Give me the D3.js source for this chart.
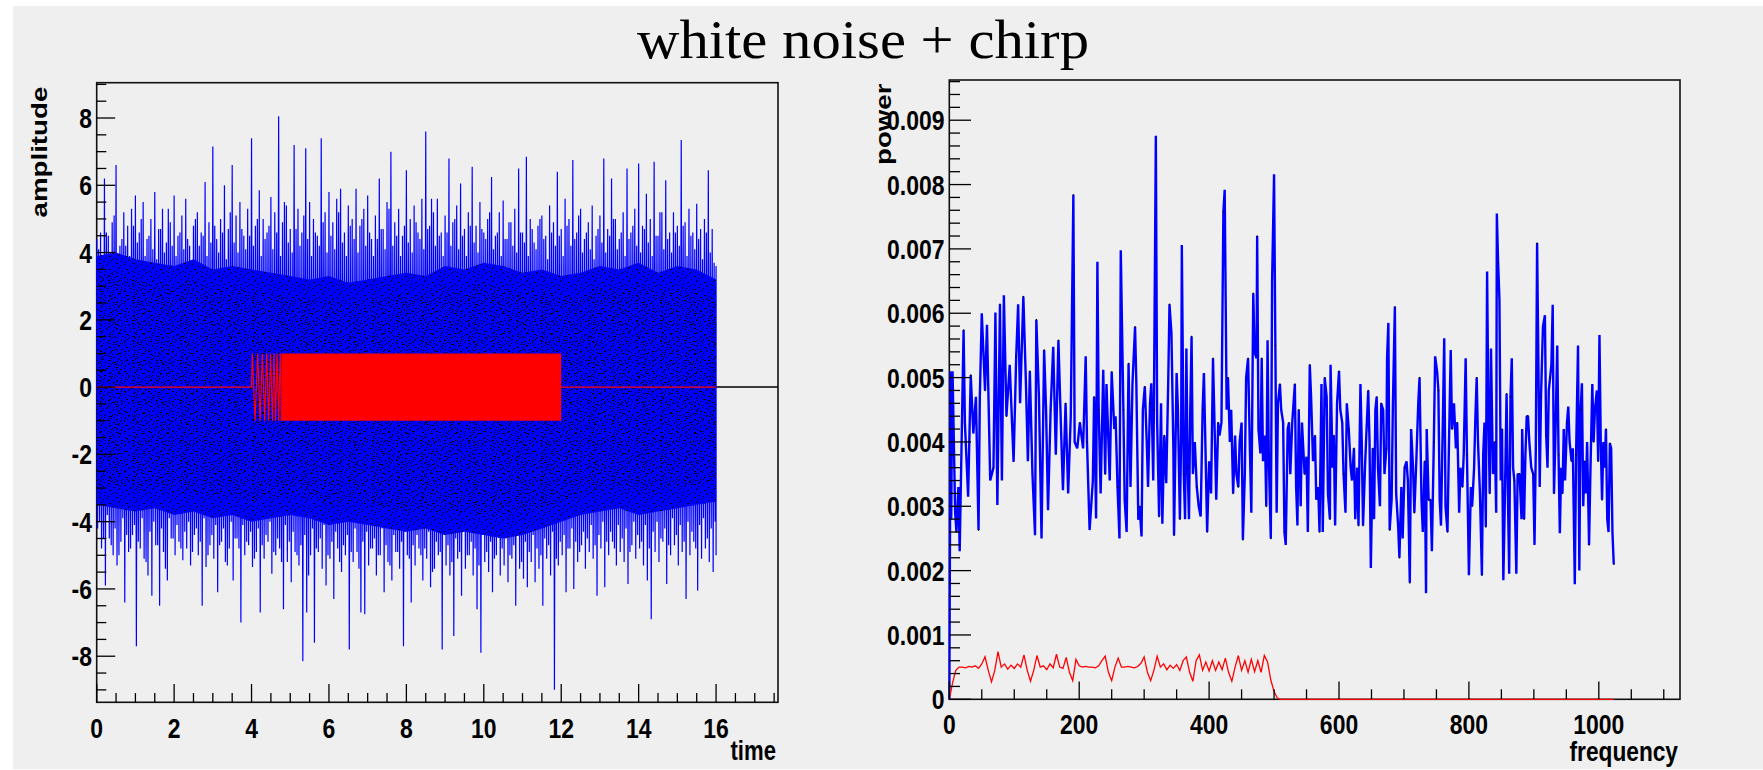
<!DOCTYPE html>
<html>
<head>
<meta charset="utf-8">
<script src="https://cdn.jsdelivr.net/npm/d3@7"></script>
<style>
  html, body { margin: 0; padding: 0; background: #fff; }
  svg { display: block; }
</style>
</head>
<body>
<div id="chart"></div>
<script>

// ---- left pad: white noise + chirp in time ----
// per 0.1 s bin (t = 0, 0.1, ...): highest and lowest excursion of the blue trace
const noiseStep = 0.1
const noiseHi = [
  4.4,4.6,6.2,4.5,4.9,6.6,4.2,5.2,4.8,5.3,
  5.7,4.6,5.5,4.4,5.0,5.8,4.7,5.3,4.3,4.9,
  5.7,4.5,5.1,5.6,4.2,4.8,5.2,4.6,6.1,4.9,
  7.15,4.4,5.0,6.0,4.7,6.6,5.1,5.5,4.5,5.3,
  7.4,4.8,5.85,5.0,4.6,5.65,5.2,8.05,4.9,5.4,
  4.7,7.2,5.3,4.6,7.1,5.5,5.0,4.5,7.4,5.2,
  5.8,4.9,5.6,5.9,4.6,5.4,5.0,5.9,4.8,5.3,
  5.7,4.4,5.1,6.2,4.7,5.5,7.0,4.9,5.3,4.5,
  6.45,5.0,5.4,4.6,5.6,7.6,4.8,5.2,5.6,4.6,
  5.1,6.8,4.9,5.4,6.05,4.7,5.2,6.55,4.8,5.5,
  4.6,5.0,6.25,4.5,5.2,5.55,4.4,4.9,5.3,6.5,
  4.6,6.85,5.0,4.3,4.8,5.1,4.5,5.4,4.9,6.4,
  4.7,5.6,5.0,6.75,4.6,5.3,4.4,4.9,5.4,4.5,
  5.1,6.8,4.7,6.2,5.0,4.4,5.2,6.5,4.6,5.3,
  6.65,4.8,5.75,5.0,6.7,4.5,5.2,6.15,4.6,5.2,
  4.8,7.35,4.9,5.3,4.6,5.45,4.7,5.0,6.45,4.7,
  3.6
]
const noiseLo = [
  -4.2,-4.8,-5.9,-4.5,-5.0,-5.3,-4.6,-6.4,-4.9,-4.4,
  -7.7,-4.8,-5.1,-5.6,-6.2,-4.7,-6.5,-4.9,-5.75,-4.5,
  -5.0,-4.6,-5.15,-4.8,-5.3,-4.4,-5.0,-6.5,-5.35,-4.7,
  -5.1,-6.1,-4.6,-5.2,-4.8,-5.75,-4.5,-7.0,-5.0,-4.7,
  -5.35,-4.9,-6.7,-5.1,-4.6,-5.55,-5.0,-4.8,-6.6,-5.2,
  -5.8,-4.9,-5.3,-8.15,-6.7,-5.0,-7.6,-4.9,-5.4,-5.9,
  -5.1,-6.3,-4.8,-5.5,-5.0,-7.8,-5.2,-4.9,-6.7,-6.75,
  -5.3,-4.8,-5.6,-5.0,-6.1,-5.2,-5.75,-4.9,-5.4,-7.7,
  -5.0,-6.4,-5.3,-4.8,-5.75,-5.1,-5.95,-5.4,-5.0,-7.8,
  -5.3,-5.6,-7.4,-5.1,-6.2,-5.4,-5.0,-5.6,-6.6,-7.9,
  -5.2,-5.5,-6.1,-5.0,-5.6,-5.3,-5.8,-5.1,-6.5,-5.4,
  -5.7,-5.95,-5.2,-5.8,-5.4,-6.5,-5.1,-5.6,-9.0,-5.3,
  -5.0,-6.1,-4.8,-6.0,-5.2,-4.7,-5.4,-4.9,-5.1,-6.2,
  -4.8,-5.95,-5.0,-4.6,-5.3,-4.9,-5.2,-5.85,-4.7,-5.1,
  -4.8,-5.3,-5.75,-6.9,-4.9,-5.2,-4.6,-5.85,-5.0,-4.7,
  -5.3,-4.9,-6.3,-5.0,-4.6,-6.05,-5.1,-4.8,-5.2,-5.5,
  -5.0
]
// the in-between bins (t = 0.05, 0.15, ...): the ragged top/bottom of the dense band
const noiseHi2 = [
  4.1,3.8,4.6,4.0,5.1,3.7,4.4,4.2,3.9,4.8,
  4.3,5.0,3.9,4.5,4.1,3.8,4.7,4.0,5.3,4.2,
  3.9,4.6,4.1,4.4,3.7,5.0,4.2,4.5,3.9,4.3,
  4.8,4.0,4.6,3.8,5.2,4.3,4.0,4.7,4.1,4.5,
  4.2,5.0,3.9,4.4,4.8,4.1,4.6,3.9,5.5,4.3,
  4.0,4.7,4.2,5.1,4.4,3.9,4.6,4.2,4.9,4.0,
  4.5,4.1,5.2,4.3,3.9,4.8,4.4,4.0,5.0,4.2,
  4.6,3.9,4.4,4.7,4.1,5.3,4.2,4.5,3.9,4.8,
  4.3,4.0,4.9,4.4,4.1,4.7,5.6,4.2,4.5,3.9,
  4.6,4.2,5.0,4.1,4.5,3.9,4.8,4.3,4.0,4.7,
  4.4,5.2,4.1,4.6,3.9,4.4,4.9,4.2,4.0,4.6,
  4.3,3.9,4.7,4.1,5.0,4.4,3.8,4.6,4.2,4.5,
  3.9,4.8,4.2,4.4,5.1,4.0,4.6,4.1,3.8,4.7,
  4.3,4.0,4.5,5.0,4.1,4.6,3.9,4.4,4.8,4.2,
  4.0,4.7,4.3,3.9,4.5,5.2,4.1,4.4,4.0,4.6,
  4.2,4.8,3.9,4.5,4.1,4.4,3.8,4.6,4.0,3.7
]
const noiseLo2 = [
  -4.0,-4.5,-3.8,-4.7,-4.2,-5.0,-3.9,-4.4,-4.8,-4.1,
  -4.6,-3.9,-5.2,-4.3,-4.0,-4.7,-4.2,-5.4,-3.9,-4.5,
  -4.1,-4.8,-4.3,-4.0,-4.9,-4.2,-4.6,-3.9,-5.0,-4.4,
  -4.1,-4.7,-4.2,-5.3,-4.0,-4.5,-4.8,-4.1,-4.6,-4.3,
  -5.1,-4.2,-4.7,-4.4,-4.0,-4.9,-4.5,-5.2,-4.1,-4.6,
  -4.3,-5.0,-4.7,-4.4,-5.6,-4.2,-4.8,-4.5,-4.1,-5.0,
  -4.6,-4.3,-5.2,-4.7,-4.4,-4.9,-4.2,-5.4,-4.6,-4.3,
  -4.8,-4.5,-5.0,-4.2,-4.7,-5.3,-4.4,-4.9,-4.6,-4.3,
  -5.1,-4.7,-4.4,-5.0,-4.8,-4.3,-5.5,-4.6,-4.9,-4.4,
  -4.7,-5.2,-4.5,-4.9,-4.3,-5.0,-4.6,-4.8,-5.3,-4.4,
  -4.9,-4.6,-5.1,-4.4,-4.8,-4.5,-5.0,-4.7,-4.3,-5.2,
  -4.6,-4.9,-4.4,-4.8,-5.0,-4.5,-4.7,-4.3,-5.1,-4.6,
  -4.4,-4.8,-4.2,-4.6,-4.9,-4.3,-4.5,-4.1,-4.7,-4.4,
  -4.0,-4.6,-4.3,-4.8,-4.1,-4.5,-4.2,-4.9,-4.0,-4.4,
  -4.6,-4.1,-4.8,-4.3,-4.0,-4.5,-4.2,-4.7,-3.9,-4.4,
  -4.1,-4.6,-4.0,-4.3,-4.8,-4.1,-3.9,-4.5,-4.2,-4.0
]
// every 0.5 s: edges of the marker-speckled core (dense inner part, sparser outer part)
const coreStep = 0.5
const coreHi = [3.3,3.4,3.2,3.1,3.0,3.2,2.9,3.0,2.9,2.8,2.7,2.6,2.6,2.5,2.6,2.7,2.8,
                2.7,3.0,2.9,3.1,3.0,2.8,2.9,2.7,2.8,3.0,2.9,3.1,2.8,3.0,2.9,2.6]
const coreLo = [-2.9,-3.0,-3.1,-3.0,-3.2,-3.1,-3.3,-3.2,-3.4,-3.3,-3.2,-3.3,-3.5,-3.4,-3.5,-3.6,-3.7,
                -3.6,-3.8,-3.7,-3.8,-3.9,-3.8,-3.6,-3.4,-3.2,-3.1,-3.0,-3.2,-3.1,-3.0,-2.9,-2.8]
const outerHi = [3.9,4.0,3.8,3.7,3.6,3.8,3.5,3.6,3.5,3.4,3.3,3.2,3.3,3.1,3.2,3.3,3.4,
                 3.3,3.6,3.5,3.7,3.6,3.4,3.5,3.3,3.4,3.6,3.5,3.7,3.4,3.6,3.5,3.2]
const outerLo = [-3.5,-3.6,-3.7,-3.6,-3.8,-3.7,-3.9,-3.8,-4.0,-3.9,-3.8,-3.9,-4.1,-4.0,-4.1,-4.2,-4.3,
                 -4.2,-4.4,-4.3,-4.4,-4.5,-4.4,-4.2,-4.0,-3.8,-3.7,-3.6,-3.8,-3.7,-3.6,-3.5,-3.4]
// red chirp: flat, first resolved swings, solid block, flat
const chirpHead = [[0,0],[4.0,0],[4.02,1],[4.09,-1],[4.16,1],[4.22,-1],[4.28,1],[4.34,-1],[4.39,1],
                   [4.44,-1],[4.49,1],[4.54,-1],[4.58,1],[4.62,-1],[4.66,1],[4.70,-1],[4.74,1],[4.77,-1]]
const chirpBlock = [4.77, 12]
const chirpAmp = 1
const chirpTail = [[12,0],[16,0]]

// ---- right pad: power spectra (power in units of 0.001) ----
const specFreq = [0,1,2,3,4,5,9,11,14,16,22,24,29,33,37,41,45,47,50,55,58,63,68,71,74,78,81,84,88,93,
  99,103,106,109,114,118,121,124,128,132,134,138,142,146,149,152,156,160,164,168,172,175,179,183,187,
  191,193,197,201,206,210,212,216,221,223,226,228,230,233,237,240,242,247,250,254,256,259,262,264,268,
  270,273,276,279,282,286,288,291,293,296,298,301,304,306,309,311,314,315,318,320,323,326,328,331,334,
  337,339,342,345,346,350,352,355,357,358,361,363,365,367,369,371,373,375,378,381,384,387,390,392,394,
  397,400,403,406,409,411,414,416,419,422,424,427,429,432,434,437,440,442,445,447,450,452,455,457,460,
  463,465,468,470,473,474,476,479,481,483,486,488,490,492,495,497,500,502,504,506,509,511,514,516,518,
  521,523,525,528,532,534,536,538,541,543,547,550,552,555,557,560,563,565,568,570,573,575,578,581,583,
  586,587,590,592,594,597,600,602,605,607,610,612,615,618,620,623,625,628,630,633,635,637,640,642,645,
  647,649,652,654,656,658,660,663,665,668,670,673,674,676,678,681,683,686,688,691,693,696,698,701,704,
  706,709,711,714,716,719,722,724,727,729,732,734,735,738,741,743,746,748,751,753,755,757,760,762,764,
  767,769,772,774,777,780,782,785,787,790,792,795,797,800,803,805,808,810,812,814,817,820,822,824,826,
  828,830,832,834,837,840,842,843,845,847,849,851,853,855,858,860,862,864,866,868,870,873,875,878,881,
  882,885,887,889,891,893,896,899,901,903,905,907,909,911,914,917,919,921,923,925,927,929,931,933,936,
  938,940,942,944,946,948,951,953,955,958,960,963,965,968,970,972,974,976,978,980,982,985,987,990,992,
  994,997,999,1001,1003,1005,1007,1009,1011,1013,1015,1017,1019,1021,1023]
const specPow = [0,2.4,5.1,2.8,4.4,5.1,2.9,2.6,3.3,2.3,5.74,4.3,3.15,5.04,4.13,4.7,2.63,4.7,6.0,4.8,5.82,
  3.4,3.6,6.01,3.02,6.14,3.4,6.28,4.4,5.2,3.69,5.33,6.14,4.6,6.26,4.9,3.7,5.1,3.51,2.55,5.9,4.7,2.5,5.43,
  4.5,2.94,4.5,5.48,3.8,5.58,4.2,3.25,4.6,3.2,4.4,7.84,4.0,3.9,4.3,3.9,5.33,4.0,2.63,3.4,4.7,2.81,6.8,4.5,
  3.2,5.12,3.5,4.9,3.4,5.09,4.2,4.4,3.3,2.5,6.98,4.5,3.1,2.6,5.22,3.3,4.9,5.79,4.9,2.79,3.0,2.53,4.5,4.86,
  4.0,3.3,4.6,4.91,3.4,4.5,8.76,4.3,2.84,4.6,2.73,4.1,3.36,4.9,6.14,5.69,3.9,2.55,5.07,4.5,2.8,4.1,7.06,
  3.5,2.8,5.45,3.6,2.8,4.5,5.64,3.5,4.0,3.3,3.0,2.84,4.5,5.07,4.1,2.6,3.7,3.2,5.3,4.0,3.1,4.3,4.1,4.3,
  7.58,7.92,4.5,5.0,4.0,4.5,3.2,4.1,3.5,3.3,4.0,4.3,2.48,3.5,5.0,5.3,3.8,2.9,6.31,5.4,5.3,7.2,4.2,3.82,
  5.3,3.7,4.1,3.0,5.58,3.7,2.5,6.5,8.16,5.5,2.9,4.6,4.9,4.5,4.3,2.6,2.4,4.2,4.3,3.5,4.3,4.9,3.3,2.7,4.5,
  3.0,4.3,3.5,3.77,2.6,5.2,4.7,3.7,4.1,3.1,3.3,2.6,4.9,2.6,5.0,4.7,3.2,2.8,5.2,3.6,4.1,2.7,4.6,5.1,4.5,
  4.3,3.5,2.9,4.6,4.2,3.6,3.4,3.9,2.8,3.6,2.7,4.9,4.0,2.7,3.6,4.1,4.8,4.0,2.04,3.9,2.8,4.5,4.7,3.6,3.0,
  4.6,4.5,3.5,3.9,5.3,5.85,2.63,3.1,4.6,6.1,3.2,2.7,2.2,3.3,2.5,3.6,3.7,3.4,1.81,4.2,3.6,2.9,3.7,4.6,5.0,
  3.1,2.6,3.7,1.65,4.2,3.1,3.1,2.3,4.0,5.33,5.1,4.8,3.1,2.7,4.4,5.61,3.0,2.6,3.8,5.43,4.2,4.6,3.9,4.3,
  2.9,3.6,3.3,3.8,5.3,3.8,1.93,3.3,3.0,3.6,4.4,5.0,4.0,3.2,1.93,3.8,4.3,2.68,6.65,4.5,3.2,5.45,3.5,4.0,
  2.9,7.55,6.78,6.2,3.4,4.2,1.85,2.9,4.75,3.2,1.95,4.7,5.3,3.6,3.4,1.95,3.5,3.5,2.8,4.2,2.8,3.8,4.4,4.4,
  4.0,3.6,3.5,2.4,3.9,7.09,5.2,3.3,4.7,5.79,5.97,4.1,3.6,4.8,5.0,5.2,6.13,3.2,4.0,5.5,3.8,2.58,3.6,3.2,
  4.2,3.4,4.3,4.55,4.0,3.7,3.9,1.79,3.8,5.5,2.0,4.5,4.91,3.0,3.7,3.2,4.0,2.4,3.5,4.9,4.0,4.5,4.8,3.7,
  5.66,4.0,3.1,4.0,3.6,4.2,2.8,2.6,3.98,3.9,2.6,2.1]
const chirpFreq = [0,5,10,15,20,25,30,35,40,45,50,55,60,65,70,75,80,85,90,95,100,105,110,115,120,125,
  130,135,140,145,150,155,160,165,170,175,180,185,190,195,200,205,210,215,220,225,230,235,240,245,250,
  255,260,265,270,275,280,285,290,295,300,305,310,315,320,325,330,335,340,345,350,355,360,365,370,375,
  380,385,390,395,400,405,410,415,420,425,430,435,440,445,450,455,460,465,470,475,480,485,490,495,500,
  505,510,1023]
const chirpPow = [0,0.25,0.45,0.5,0.5,0.49,0.51,0.5,0.52,0.48,
  0.55,0.66,0.45,0.27,0.45,0.74,0.5,0.55,0.47,0.53,
  0.48,0.55,0.5,0.69,0.45,0.28,0.45,0.68,0.5,0.52,
  0.46,0.55,0.49,0.7,0.5,0.48,0.65,0.42,0.29,0.62,
  0.52,0.5,0.51,0.5,0.5,0.49,0.52,0.6,0.67,0.42,
  0.29,0.5,0.64,0.5,0.5,0.51,0.5,0.49,0.51,0.56,
  0.66,0.42,0.29,0.45,0.67,0.5,0.55,0.46,0.53,0.48,
  0.54,0.45,0.6,0.66,0.42,0.28,0.6,0.69,0.45,0.58,
  0.44,0.6,0.45,0.58,0.46,0.64,0.42,0.28,0.5,0.68,
  0.45,0.6,0.42,0.62,0.43,0.6,0.42,0.68,0.58,0.3,
  0.12,0.02,0,0]

// axis ticks and labels
const timeTicks = [0,2,4,6,8,10,12,14,16]
const ampTicks = [-8,-6,-4,-2,0,2,4,6,8]
const freqTicks = [0,200,400,600,800,1000]
const powTicks = [0,1,2,3,4,5,6,7,8,9]
const powLabels = ["0","0.001","0.002","0.003","0.004","0.005","0.006","0.007","0.008","0.009"]

// ---------------------------------------------------------------
const sans = "'Liberation Sans', Arial, Helvetica, sans-serif"
const squeeze = 0.82   // the original text is narrow

const svg = d3.select("#chart").append("svg")
    .attr("width", 1763)
    .attr("height", 770)

svg.append("rect").attr("width", 1763).attr("height", 770).attr("fill", "#ffffff")
svg.append("rect").attr("x", 13).attr("y", 6).attr("width", 1750).attr("height", 763).attr("fill", "#efefef")

svg.append("text")
    .attr("x", 863).attr("y", 58)
    .attr("text-anchor", "middle")
    .attr("font-family", "'Liberation Serif', 'DejaVu Serif', serif")
    .attr("font-size", 54)
    .attr("textLength", 452)
    .attr("lengthAdjust", "spacingAndGlyphs")
    .text("white noise + chirp")

const defs = svg.append("defs")

// speckle texture (the black point markers on the band): two tiles of
// different size laid over each other so the repeat is not obvious
function speckPattern(id, w, h, dots) {
  const p = defs.append("pattern")
      .attr("id", id)
      .attr("width", w).attr("height", h)
      .attr("patternUnits", "userSpaceOnUse")
  p.selectAll("rect")
    .data(dots)
    .join("rect")
      .attr("x", d => d[0]).attr("y", d => d[1])
      .attr("width", d => d[2]).attr("height", 1)
      .attr("fill", "#000")
}
speckPattern("speckA", 24, 20, [[1,0,1],[12,0,2],[4,1,1],[21,1,1],[17,2,2],[2,3,1],[13,3,1],[19,4,2],
  [5,5,1],[22,5,1],[13,6,1],[18,7,1],[10,8,1],[1,9,1],[20,9,1],[17,10,1],[4,11,2],[14,12,1],[0,13,1],
  [22,13,2],[16,14,1],[8,15,1],[13,16,2],[5,17,1],[18,17,1],[15,18,1],[7,19,1]])
speckPattern("speckB", 17, 13, [[2,1,1],[9,0,1],[14,3,2],[5,4,1],[11,6,1],[0,7,1],[16,8,1],[7,9,2],
  [13,11,1],[3,11,1],[10,12,1],[6,2,1],[15,12,1],[1,5,1]])

function addClip(id, f) {
  defs.append("clipPath").attr("id", id)
    .append("rect")
      .attr("x", f.x0 - 1).attr("y", f.y0)
      .attr("width", f.x1 - f.x0 + 1).attr("height", f.y1 - f.y0 + 1)
}

function label(g, x, y, txt, anchor, size, rotate) {
  g.append("g")
      .attr("transform", `translate(${x},${y}) scale(${squeeze},1)` + (rotate ? " rotate(-90)" : ""))
    .append("text")
      .attr("text-anchor", anchor)
      .attr("font-family", sans)
      .attr("font-weight", "bold")
      .attr("font-size", size)
      .attr("fill", "#000")
      .text(txt)
}

function frame(g, f) {
  g.append("rect")
    .attr("x", f.x0).attr("y", f.y0)
    .attr("width", f.x1 - f.x0).attr("height", f.y1 - f.y0)
    .attr("fill", "none")
    .attr("stroke", "#111")
    .attr("stroke-width", 1.6)
}

function ticks(g, f, x, y, xMaj, xMin, yMaj, yMin, len) {
  const t = g.append("g").attr("stroke", "#000").attr("stroke-width", 1.3)
  xMin.forEach(v => t.append("line").attr("x1", x(v)).attr("x2", x(v)).attr("y1", f.y1).attr("y2", f.y1 - len.xMin))
  xMaj.forEach(v => t.append("line").attr("x1", x(v)).attr("x2", x(v)).attr("y1", f.y1).attr("y2", f.y1 - len.xMaj))
  yMin.forEach(v => t.append("line").attr("y1", y(v)).attr("y2", y(v)).attr("x1", f.x0).attr("x2", f.x0 + len.yMin))
  yMaj.forEach(v => t.append("line").attr("y1", y(v)).attr("y2", y(v)).attr("x1", f.x0).attr("x2", f.x0 + len.yMaj))
}

// ================= left pad =================
const L = { x0: 96.7, x1: 778, y0: 82.7, y1: 702.3 }
addClip("clipL", L)
const xL = d3.scaleLinear().domain([0, 17.6]).range([L.x0, L.x1])
const yL = d3.scaleLinear().domain([-9.37, 9.05]).range([L.y1, L.y0])

const left = svg.append("g")
frame(left, L)
const plotL = left.append("g").attr("clip-path", "url(#clipL)")

// zero line across the whole pad
plotL.append("line")
    .attr("x1", xL(0)).attr("x2", xL(17.6))
    .attr("y1", yL(0)).attr("y2", yL(0))
    .attr("stroke", "#000").attr("stroke-width", 1.5)

// blue trace: zig-zag through the extremes of every half bin
const zig = []
noiseHi.forEach((v, i) => {
  const t = i * noiseStep
  zig.push([t, v])
  zig.push([Math.min(16, t + noiseStep / 4), noiseLo[i]])
  if (i < noiseHi2.length) {
    zig.push([t + noiseStep / 2, noiseHi2[i]])
    zig.push([t + noiseStep * 3 / 4, noiseLo2[i]])
  }
})
plotL.append("path")
    .attr("d", d3.line().x(d => xL(d[0])).y(d => yL(d[1]))(zig))
    .attr("fill", "none")
    .attr("stroke", "#0000ff")
    .attr("stroke-width", 1.2)

// speckled core: sparse markers in the outer part, dense in the inner part
const bandArea = (lo, hi) => d3.area()
    .x((d, i) => xL(i * coreStep))
    .y0((d, i) => yL(lo[i]))
    .y1(d => yL(d))(hi)
plotL.append("path").attr("d", bandArea(outerLo, outerHi)).attr("fill", "#0000ff")
plotL.append("path").attr("d", bandArea(outerLo, outerHi)).attr("fill", "url(#speckB)")
plotL.append("path").attr("d", bandArea(coreLo, coreHi)).attr("fill", "url(#speckA)")

// red chirp
const lineL = d3.line().x(d => xL(d[0])).y(d => yL(d[1]))
plotL.append("path")
    .attr("d", lineL(chirpHead))
    .attr("fill", "none").attr("stroke", "#ff0000").attr("stroke-width", 1.2)
plotL.append("path")
    .attr("d", d3.area().x(d => xL(d)).y0(yL(-chirpAmp)).y1(yL(chirpAmp))(chirpBlock))
    .attr("fill", "#ff0000")
plotL.append("path")
    .attr("d", lineL(chirpTail))
    .attr("fill", "none").attr("stroke", "#ff0000").attr("stroke-width", 1.2)

ticks(left, L, xL, yL,
  timeTicks, d3.range(0, 17.6, 0.5).filter(v => v % 2 !== 0),
  ampTicks, d3.range(-9, 9.01, 0.5).filter(v => v % 2 !== 0),
  { xMaj: 18.3, xMin: 9.2, yMaj: 18.5, yMin: 9.6 })

ampTicks.forEach(v => label(left, 92, yL(v) + 10, String(v), "end", 28))
timeTicks.forEach(v => label(left, xL(v), L.y1 + 35.5, String(v), "middle", 28))
label(left, L.x1 - 2, L.y1 + 58, "time", "end", 27)
label(left, 47, L.y0 + 4, "amplitude", "end", 27.7, true)

// ================= right pad =================
const R = { x0: 949.3, x1: 1680, y0: 80, y1: 699.3 }
addClip("clipR", R)
const xR = d3.scaleLinear().domain([0, 1125]).range([R.x0, R.x1])
const yR = d3.scaleLinear().domain([0, 9.625]).range([R.y1, R.y0])

const right = svg.append("g")
frame(right, R)
const plotR = right.append("g").attr("clip-path", "url(#clipR)")

const spec = specFreq.map((f, i) => [f, specPow[i]])
plotR.append("path")
    .attr("d", d3.line().x(d => xR(d[0])).y(d => yR(d[1]))(spec))
    .attr("fill", "none")
    .attr("stroke", "#0000ff")
    .attr("stroke-width", 2.4)
    .attr("stroke-linejoin", "bevel")

plotR.selectAll("rect.mk")
  .data(spec.filter((d, i) => i % 3 === 1))
  .join("rect")
    .attr("class", "mk")
    .attr("x", d => xR(d[0]) - 0.6).attr("y", d => yR(d[1]) - 0.6)
    .attr("width", 1.3).attr("height", 1.3)
    .attr("fill", "#000")

const chirpSpec = chirpFreq.map((f, i) => [f, chirpPow[i]])
plotR.append("path")
    .attr("d", d3.line().x(d => xR(d[0])).y(d => yR(d[1]))(chirpSpec))
    .attr("fill", "none")
    .attr("stroke", "#ff0000")
    .attr("stroke-width", 1.3)

ticks(right, R, xR, yR,
  freqTicks, d3.range(0, 1125, 50).filter(v => v % 200 !== 0),
  powTicks, d3.range(0, 9.63, 0.2).filter(v => Math.abs(v - Math.round(v)) > 0.01),
  { xMaj: 17.7, xMin: 10, yMaj: 21.7, yMin: 10.7 })

powTicks.forEach((v, i) => label(right, 944.5, yR(v) + 10, powLabels[i], "end", 28))
freqTicks.forEach(v => label(right, xR(v), R.y1 + 34.5, String(v), "middle", 28))
label(right, R.x1 - 2, R.y1 + 62, "frequency", "end", 27.7)
label(right, 891, R.y0 + 3.5, "power", "end", 27.7, true)

</script>
</body>
</html>
